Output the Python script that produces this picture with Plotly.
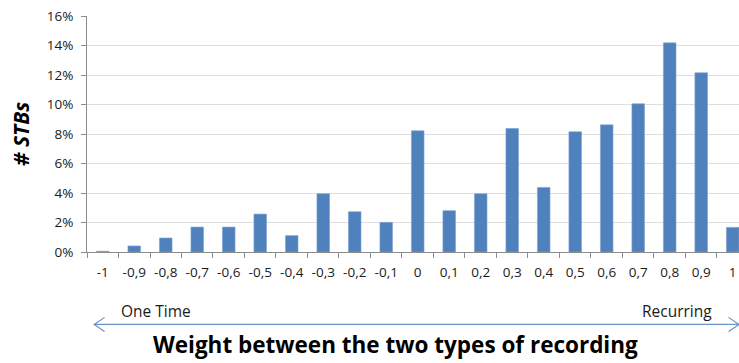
import plotly.graph_objects as go

# Weight between one-time (-1) and recurring (+1) recording, share of STBs (%)
weights = ["-1", "-0,9", "-0,8", "-0,7", "-0,6", "-0,5", "-0,4", "-0,3", "-0,2", "-0,1",
           "0", "0,1", "0,2", "0,3", "0,4", "0,5", "0,6", "0,7", "0,8", "0,9", "1"]
share_pct = [0.05, 0.41, 0.95, 1.69, 1.69, 2.57, 1.11, 3.95, 2.73, 2.01,
             8.22, 2.80, 3.95, 8.37, 4.38, 8.15, 8.62, 10.05, 14.18, 12.15, 1.67]
y_ticks = [0, 2, 4, 6, 8, 10, 12, 14, 16]

FONT = "Open Sans"
BAR = "#4F81BD"
ARROW = "#6A93C9"
TEXT = "#1a1a1a"

fig = go.Figure(go.Bar(
    x=weights,
    y=share_pct,
    width=0.4,
    marker=dict(color=BAR, line=dict(color="#7FA3D1", width=0.6)),
    hoverinfo="x+y",
))

fig.update_layout(
    width=739, height=363,
    margin=dict(l=87, r=0, t=16, b=111),
    plot_bgcolor="white", paper_bgcolor="white",
    showlegend=False,
    font=dict(family=FONT, size=13, color=TEXT),
    bargap=0.6,
)

fig.update_xaxes(
    type="category",
    range=[-0.5, 20.2],
    tickangle=0,
    showline=True, linecolor="#8c8c8c", linewidth=1,
    ticks="outside", tickson="boundaries", ticklen=5, tickcolor="#8c8c8c",
    ticklabelstandoff=8,
    showgrid=False,
    tickfont=dict(family=FONT, size=13.5, color=TEXT),
)

fig.update_yaxes(
    range=[0, 16],
    tickvals=y_ticks,
    ticktext=[f"{v}%" for v in y_ticks],
    showline=True, linecolor="#8c8c8c", linewidth=1,
    ticks="outside", ticklen=5, tickcolor="#8c8c8c",
    ticklabelstandoff=5,
    showgrid=True, gridcolor="#dedede", gridwidth=1,
    zeroline=False,
    tickfont=dict(family=FONT, size=13.5, color=TEXT),
    title=dict(text="# STBs", standoff=11,
               font=dict(family=FONT, size=21, color="#000000",
                         weight="bold", style="italic")),
)

# Labels for the two ends of the scale
fig.add_annotation(text="One Time", xref="paper", yref="paper",
                   x=0.106, y=-0.248, xanchor="center", yanchor="middle",
                   showarrow=False,
                   font=dict(family=FONT, size=15.5, color=TEXT))
fig.add_annotation(text="Recurring", xref="paper", yref="paper",
                   x=0.905, y=-0.248, xanchor="center", yanchor="middle",
                   showarrow=False,
                   font=dict(family=FONT, size=15.5, color=TEXT))

# Double-headed arrow under the axis
ay = -0.307
fig.add_shape(type="line", xref="paper", yref="paper",
              x0=0.011, x1=1.0, y0=ay, y1=ay,
              line=dict(color=ARROW, width=1.2))
hx, hy = 0.016, 0.03
for tip, sgn in ((0.011, 1), (1.0, -1)):
    fig.add_shape(type="path", xref="paper", yref="paper",
                  path=f"M {tip + sgn*hx} {ay + hy} L {tip} {ay} L {tip + sgn*hx} {ay - hy}",
                  line=dict(color=ARROW, width=1.2))

fig.add_annotation(text="Weight between the two types of recording",
                   xref="paper", yref="paper", x=0.473, y=-0.39,
                   xanchor="center", yanchor="middle",
                   showarrow=False,
                   font=dict(family=FONT, size=22.5, color="#000000", weight="bold"))

fig.write_html("out.html")
